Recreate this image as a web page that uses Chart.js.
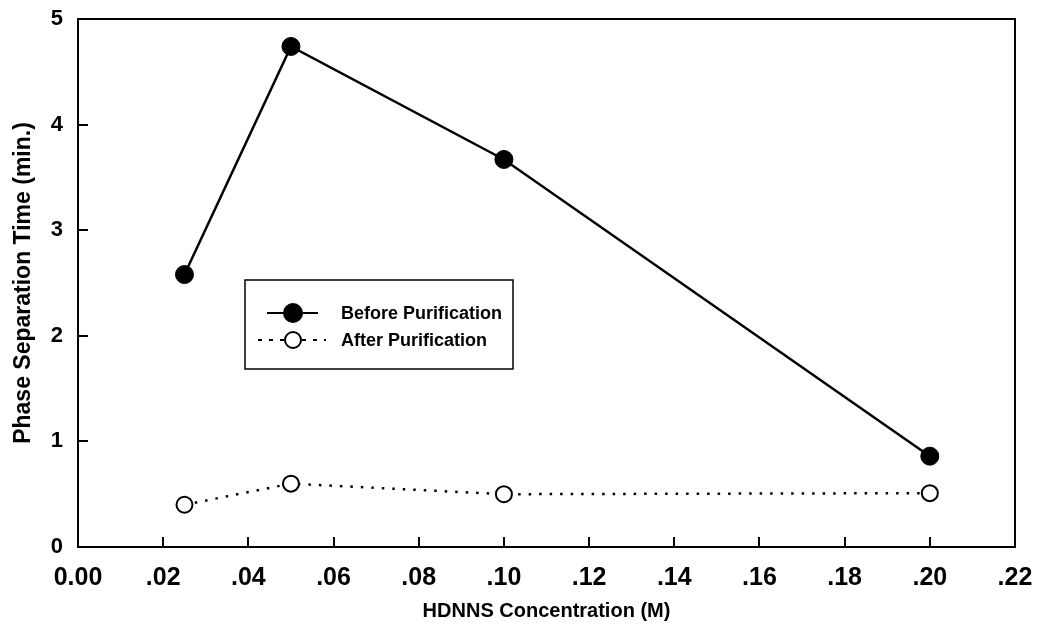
<!DOCTYPE html>
<html>
<head>
<meta charset="utf-8">
<script src="https://cdn.jsdelivr.net/npm/chart.js@4/dist/chart.umd.min.js"></script>
<style>
  html, body { margin: 0; padding: 0; background: #fff; }
  #wrap { position: relative; width: 1041px; height: 631px; }
</style>
</head>
<body>
<div id="wrap"><canvas id="phaseChart" width="1041" height="631"></canvas></div>
<script>
// Data
const concentrations = [0.025, 0.05, 0.10, 0.20];
const beforePurification = [2.58, 4.74, 3.67, 0.86];
const afterPurification = [0.40, 0.60, 0.50, 0.51];
const xTicks = [0, 0.02, 0.04, 0.06, 0.08, 0.10, 0.12, 0.14, 0.16, 0.18, 0.20, 0.22];
const yTicks = [0, 1, 2, 3, 4, 5];

const font = 'Liberation Sans, Arial, sans-serif';

function toPoints(xs, ys) {
    return xs.map((x, i) => ({ x: x, y: ys[i] }));
}

// Frame, inward tick marks and the boxed legend
const framePlugin = {
    id: 'frame',
    afterDraw(chart) {
        const ctx = chart.ctx;
        const a = chart.chartArea;
        const xs = chart.scales.x;
        const ys = chart.scales.y;
        ctx.save();
        ctx.strokeStyle = '#000';
        ctx.lineWidth = 2;
        ctx.strokeRect(a.left, a.top, a.right - a.left, a.bottom - a.top);

        ctx.beginPath();
        xTicks.slice(1, -1).forEach(v => {
            const px = Math.round(xs.getPixelForValue(v));
            ctx.moveTo(px, a.bottom);
            ctx.lineTo(px, a.bottom - 10);
        });
        yTicks.slice(1, -1).forEach(v => {
            const py = Math.round(ys.getPixelForValue(v));
            ctx.moveTo(a.left, py);
            ctx.lineTo(a.left + 10, py);
        });
        ctx.stroke();

        // legend box
        const lx = 245, ly = 280, lw = 268, lh = 89;
        ctx.lineWidth = 1.5;
        ctx.strokeRect(lx, ly, lw, lh);

        const rows = [
            { label: 'Before Purification', y: 313, filled: true },
            { label: 'After Purification', y: 340, filled: false }
        ];
        rows.forEach(r => {
            ctx.beginPath();
            ctx.lineWidth = 2;
            if (r.filled) {
                ctx.moveTo(267, r.y);
                ctx.lineTo(318, r.y);
            } else {
                ctx.setLineDash([4, 7]);
                ctx.moveTo(258, r.y);
                ctx.lineTo(326, r.y);
            }
            ctx.stroke();
            ctx.setLineDash([]);
            ctx.beginPath();
            ctx.arc(293, r.y, r.filled ? 9 : 8, 0, Math.PI * 2);
            ctx.fillStyle = r.filled ? '#000' : '#fff';
            ctx.fill();
            ctx.lineWidth = 2;
            ctx.stroke();
            ctx.fillStyle = '#000';
            ctx.font = 'bold 18px ' + font;
            ctx.textBaseline = 'middle';
            ctx.textAlign = 'left';
            ctx.fillText(r.label, 341, r.y + 1);
        });
        ctx.restore();
    }
};

const ctx = document.getElementById('phaseChart').getContext('2d');
new Chart(ctx, {
    type: 'scatter',
    data: {
        datasets: [
            {
                label: 'Before Purification',
                data: toPoints(concentrations, beforePurification),
                showLine: true,
                borderColor: '#000',
                backgroundColor: '#000',
                borderWidth: 2.5,
                pointRadius: 9,
                pointBorderWidth: 1,
                tension: 0
            },
            {
                label: 'After Purification',
                data: toPoints(concentrations, afterPurification),
                showLine: true,
                borderColor: '#000',
                backgroundColor: '#fff',
                borderWidth: 2.5,
                borderDash: [2.5, 8],
                pointRadius: 8,
                pointBorderWidth: 2,
                tension: 0
            }
        ]
    },
    options: {
        responsive: false,
        animation: false,
        layout: { padding: { top: 19, right: 26, left: 0, bottom: 0 } },
        plugins: {
            legend: { display: false },
            tooltip: { enabled: false }
        },
        scales: {
            x: {
                type: 'linear',
                min: 0,
                max: 0.22,
                afterBuildTicks: scale => { scale.ticks = xTicks.map(v => ({ value: v })); },
                afterFit: scale => {
                    scale.height = 84;
                    scale.paddingLeft = 0;
                    scale.paddingRight = 0;
                },
                grid: { display: false, drawTicks: false },
                border: { display: false },
                ticks: {
                    color: '#000',
                    padding: 16,
                    maxRotation: 0,
                    font: { family: font, size: 25, weight: 'bold' },
                    callback: v => v === 0 ? '0.00' : v.toFixed(2).replace(/^0/, '')
                },
                title: {
                    display: true,
                    text: 'HDNNS Concentration (M)',
                    color: '#000',
                    font: { family: font, size: 20, weight: 'bold' },
                    padding: { top: 0, bottom: 8 }
                }
            },
            y: {
                type: 'linear',
                min: 0,
                max: 5,
                afterBuildTicks: scale => { scale.ticks = yTicks.map(v => ({ value: v })); },
                afterFit: scale => {
                    scale.width = 78;
                    scale.paddingTop = 0;
                    scale.paddingBottom = 0;
                },
                grid: { display: false, drawTicks: false },
                border: { display: false },
                ticks: {
                    color: '#000',
                    padding: 15,
                    font: { family: font, size: 22, weight: 'bold' },
                    callback: v => String(v)
                },
                title: {
                    display: true,
                    text: 'Phase Separation Time (min.)',
                    color: '#000',
                    font: { family: font, size: 23, weight: 'bold' },
                    padding: { top: 10, bottom: 0 }
                }
            }
        }
    },
    plugins: [framePlugin]
});
</script>
</body>
</html>
